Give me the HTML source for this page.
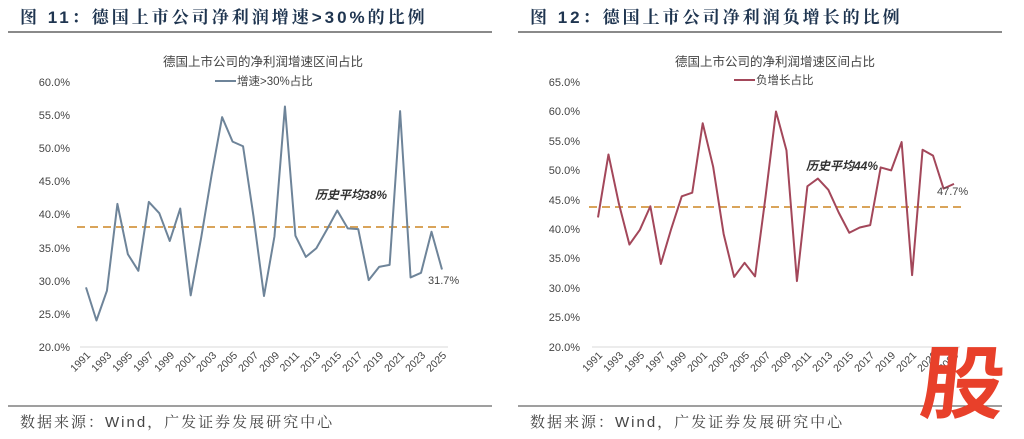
<!DOCTYPE html>
<html><head><meta charset="utf-8"><style>
html,body{margin:0;padding:0;background:#fff;}
svg{display:block;font-family:"Liberation Sans","Noto Sans CJK SC",sans-serif;}
</style></head><body>
<svg width="1024" height="439" viewBox="0 0 1024 439" xmlns="http://www.w3.org/2000/svg">
<rect width="1024" height="439" fill="#fff"/>
<!-- headers -->
<text x="20" y="23" font-size="17" font-weight="bold" fill="#1f3550" letter-spacing="3" font-family="'Liberation Sans','Noto Serif CJK SC',serif">图 11：德国上市公司净利润增速&gt;30%的比例</text>
<text x="530" y="23" font-size="17" font-weight="bold" fill="#1f3550" letter-spacing="3" font-family="'Liberation Sans','Noto Serif CJK SC',serif">图 12：德国上市公司净利润负增长的比例</text>
<line x1="8" y1="32" x2="492" y2="32" stroke="#444" stroke-width="1.2"/>
<line x1="518" y1="32" x2="1002" y2="32" stroke="#444" stroke-width="1.2"/>
<line x1="8" y1="406" x2="492" y2="406" stroke="#666" stroke-width="1.2"/>
<line x1="518" y1="406" x2="1002" y2="406" stroke="#666" stroke-width="1.2"/>
<text x="20" y="427" font-size="15" fill="#444" letter-spacing="2" font-family="'Liberation Sans','Noto Serif CJK SC',serif">数据来源：Wind，广发证券发展研究中心</text>
<text x="530" y="427" font-size="15" fill="#444" letter-spacing="2" font-family="'Liberation Sans','Noto Serif CJK SC',serif">数据来源：Wind，广发证券发展研究中心</text>

<!-- LEFT CHART -->
<text x="263" y="66" font-size="12.5" fill="#444" text-anchor="middle">德国上市公司的净利润增速区间占比</text>
<line x1="215" y1="81" x2="236" y2="81" stroke="#6e8499" stroke-width="2"/>
<text x="237" y="85" font-size="11.5" fill="#444">增速&gt;30%占比</text>
<g font-size="11" fill="#444" text-anchor="end">
<text x="70" y="86">60.0%</text><text x="70" y="119">55.0%</text><text x="70" y="152">50.0%</text><text x="70" y="185">45.0%</text><text x="70" y="218">40.0%</text><text x="70" y="252">35.0%</text><text x="70" y="285">30.0%</text><text x="70" y="318">25.0%</text><text x="70" y="351">20.0%</text>
</g>
<line x1="80" y1="347" x2="448" y2="347" stroke="#d9d9d9" stroke-width="1"/>
<g font-size="10.5" fill="#444" text-anchor="end">
<text transform="translate(91,356) rotate(-45)">1991</text>
<text transform="translate(112,356) rotate(-45)">1993</text>
<text transform="translate(133,356) rotate(-45)">1995</text>
<text transform="translate(154,356) rotate(-45)">1997</text>
<text transform="translate(175,356) rotate(-45)">1999</text>
<text transform="translate(196,356) rotate(-45)">2001</text>
<text transform="translate(217,356) rotate(-45)">2003</text>
<text transform="translate(238,356) rotate(-45)">2005</text>
<text transform="translate(259,356) rotate(-45)">2007</text>
<text transform="translate(280,356) rotate(-45)">2009</text>
<text transform="translate(300,356) rotate(-45)">2011</text>
<text transform="translate(321,356) rotate(-45)">2013</text>
<text transform="translate(342,356) rotate(-45)">2015</text>
<text transform="translate(363,356) rotate(-45)">2017</text>
<text transform="translate(384,356) rotate(-45)">2019</text>
<text transform="translate(405,356) rotate(-45)">2021</text>
<text transform="translate(426,356) rotate(-45)">2023</text>
<text transform="translate(447,356) rotate(-45)">2025</text>
</g>
<line x1="77" y1="227" x2="451" y2="227" stroke="#d9a45a" stroke-width="2" stroke-dasharray="8,5"/>
<polyline fill="none" stroke="#6e8499" stroke-width="2" stroke-linejoin="round" vector-effect="non-scaling-stroke"
 transform="translate(86,479.5) scale(10.47,-6.625)"
 points="0,29 1,24 2,28.5 3,41.6 4,34 5,31.5 6,41.9 7,40.2 8,36 9,40.9 10,27.8 11,36.5 12,46 13,54.7 14,51 15,50.3 16,39.7 17,27.7 18,36.7 19,56.3 20,36.8 21,33.6 22,34.9 23,37.7 24,40.6 25,37.9 26,37.8 27,30.1 28,32.1 29,32.4 30,55.6 31,30.5 32,31.2 33,37.4 34,31.7"/>
<text x="315" y="199" font-size="12" font-weight="bold" font-style="italic" fill="#333">历史平均38%</text>
<text x="428" y="284" font-size="11" fill="#444">31.7%</text>

<!-- RIGHT CHART -->
<text x="775" y="66" font-size="12.5" fill="#444" text-anchor="middle">德国上市公司的净利润增速区间占比</text>
<line x1="734" y1="80" x2="755" y2="80" stroke="#a3475a" stroke-width="2"/>
<text x="756" y="84" font-size="11.5" fill="#444">负增长占比</text>
<g font-size="11" fill="#444" text-anchor="end">
<text x="580" y="86">65.0%</text><text x="580" y="115">60.0%</text><text x="580" y="145">55.0%</text><text x="580" y="174">50.0%</text><text x="580" y="204">45.0%</text><text x="580" y="233">40.0%</text><text x="580" y="262">35.0%</text><text x="580" y="292">30.0%</text><text x="580" y="321">25.0%</text><text x="580" y="351">20.0%</text>
</g>
<line x1="592" y1="347" x2="960" y2="347" stroke="#d9d9d9" stroke-width="1"/>
<g font-size="10.5" fill="#444" text-anchor="end">
<text transform="translate(603,356) rotate(-45)">1991</text>
<text transform="translate(624,356) rotate(-45)">1993</text>
<text transform="translate(645,356) rotate(-45)">1995</text>
<text transform="translate(666,356) rotate(-45)">1997</text>
<text transform="translate(687,356) rotate(-45)">1999</text>
<text transform="translate(708,356) rotate(-45)">2001</text>
<text transform="translate(729,356) rotate(-45)">2003</text>
<text transform="translate(750,356) rotate(-45)">2005</text>
<text transform="translate(771,356) rotate(-45)">2007</text>
<text transform="translate(792,356) rotate(-45)">2009</text>
<text transform="translate(812,356) rotate(-45)">2011</text>
<text transform="translate(833,356) rotate(-45)">2013</text>
<text transform="translate(854,356) rotate(-45)">2015</text>
<text transform="translate(875,356) rotate(-45)">2017</text>
<text transform="translate(896,356) rotate(-45)">2019</text>
<text transform="translate(917,356) rotate(-45)">2021</text>
<text transform="translate(938,356) rotate(-45)">2023</text>
<text transform="translate(959,356) rotate(-45)">2025</text>
</g>
<line x1="589" y1="207" x2="962" y2="207" stroke="#d9a45a" stroke-width="2" stroke-dasharray="8,5"/>
<polyline fill="none" stroke="#a3475a" stroke-width="2" stroke-linejoin="round" vector-effect="non-scaling-stroke"
 transform="translate(598,464.8) scale(10.47,-5.889)"
 points="0,42 1,52.7 2,44.3 3,37.4 4,39.9 5,43.9 6,34.1 7,40.1 8,45.6 9,46.2 10,58 11,50.6 12,39.2 13,31.9 14,34.3 15,32 16,45.5 17,60 18,53.4 19,31.2 20,47.3 21,48.6 22,46.7 23,42.8 24,39.4 25,40.3 26,40.7 27,50.5 28,50 29,54.8 30,32.2 31,53.5 32,52.5 33,46.9 34,47.7"/>
<text x="806" y="170" font-size="12" font-weight="bold" font-style="italic" fill="#333">历史平均44%</text>
<text x="937" y="195" font-size="11" fill="#444">47.7%</text>

<!-- watermark -->
<text x="0" y="0" font-size="84" font-weight="bold" fill="#e8402a" text-anchor="middle" transform="translate(960,412) skewX(-6) scale(1,0.95)" font-family="'Noto Sans CJK SC',sans-serif">股</text>
</svg>
</body></html>
